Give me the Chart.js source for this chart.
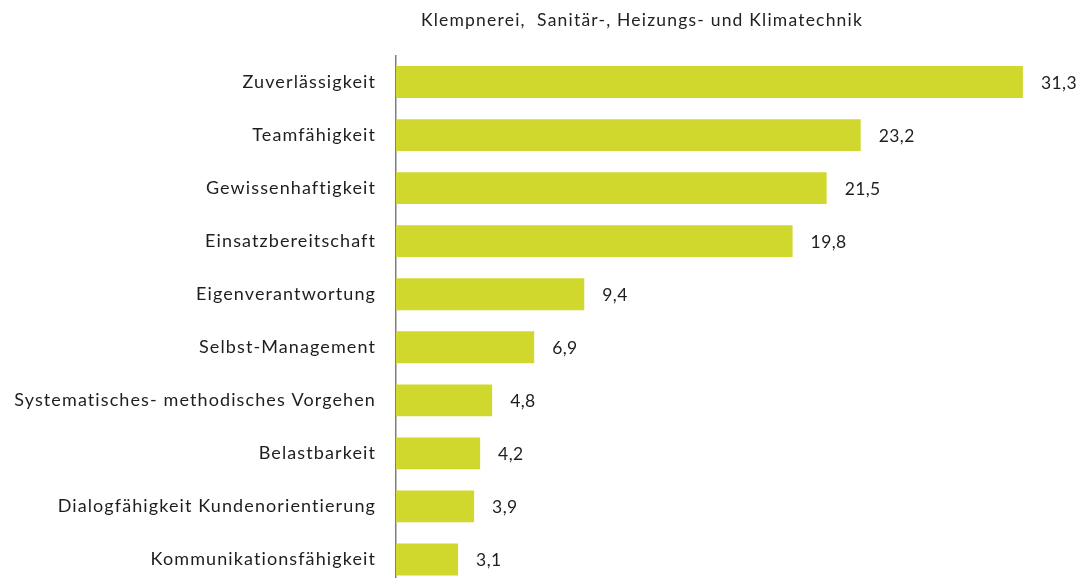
<!DOCTYPE html>
<html>
<head>
<meta charset="utf-8">
<script src="https://cdn.jsdelivr.net/npm/chart.js@4"></script>
<style>
  html, body { margin: 0; padding: 0; overflow: hidden; background: #fff; }
  #wrap { position: relative; width: 1079px; height: 586px; }
  #title {
    position: absolute; top: 9px; left: 642px; transform: translateX(-50%);
    font-family: Lato, sans-serif; font-size: 17.5px; letter-spacing: 1.2px;
    color: #222; white-space: pre;
  }
</style>
</head>
<body>
<div id="wrap">
  <div id="title">Klempnerei,  Sanitär-, Heizungs- und Klimatechnik</div>
  <canvas id="barChart"></canvas>
</div>
<script>
const categories = [
  "Zuverlässigkeit",
  "Teamfähigkeit",
  "Gewissenhaftigkeit",
  "Einsatzbereitschaft",
  "Eigenverantwortung",
  "Selbst-Management",
  "Systematisches- methodisches Vorgehen",
  "Belastbarkeit",
  "Dialogfähigkeit Kundenorientierung",
  "Kommunikationsfähigkeit",
];
const values = [31.3, 23.2, 21.5, 19.8, 9.4, 6.9, 4.8, 4.2, 3.9, 3.1];

const BAR_COLOR = "#d0d82e";
const TEXT_COLOR = "#1e1e1e";
const FONT = "Lato, sans-serif";

// wider tracking for all canvas text (reference font is spaced out)
const spacing = {
  id: "spacing",
  beforeDraw(chart) {
    chart.ctx.letterSpacing = "1.1px";
  },
};

// value labels to the right of each bar
const valueLabels = {
  id: "valueLabels",
  afterDatasetsDraw(chart) {
    const ctx = chart.ctx;
    const meta = chart.getDatasetMeta(0);
    ctx.save();
    ctx.letterSpacing = "0.4px";
    ctx.font = "17.5px " + FONT;
    ctx.fillStyle = TEXT_COLOR;
    ctx.textAlign = "left";
    ctx.textBaseline = "middle";
    meta.data.forEach((bar, i) => {
      const txt = values[i].toFixed(1).replace(".", ",");
      ctx.fillText(txt, bar.x + 18, bar.y + 1);
    });
    ctx.restore();
  },
};

const ctx = document.getElementById("barChart").getContext("2d");
new Chart(ctx, {
  type: "bar",
  data: {
    labels: categories,
    datasets: [
      {
        data: values,
        backgroundColor: BAR_COLOR,
        borderWidth: 0,
        barPercentage: 0.6,
        categoryPercentage: 1.0,
      },
    ],
  },
  options: {
    indexAxis: "y",
    responsive: true,
    maintainAspectRatio: false,
    animation: false,
    layout: { padding: { top: 55.5, right: 0, bottom: 0, left: 0 } },
    plugins: {
      legend: { display: false },
      title: { display: false },
      tooltip: { enabled: false },
    },
    scales: {
      x: {
        display: false,
        min: 0,
        max: 34.1,
      },
      y: {
        afterFit(scale) {
          scale.width = 396;
          scale.paddingTop = 0;
          scale.paddingBottom = 0;
        },
        grid: { display: false, drawTicks: false },
        border: { display: true, color: "#7f7f7f", width: 1.5 },
        ticks: {
          padding: 20,
          color: TEXT_COLOR,
          font: { family: FONT, size: 18 },
        },
      },
    },
  },
  plugins: [spacing, valueLabels],
});
</script>
</body>
</html>
